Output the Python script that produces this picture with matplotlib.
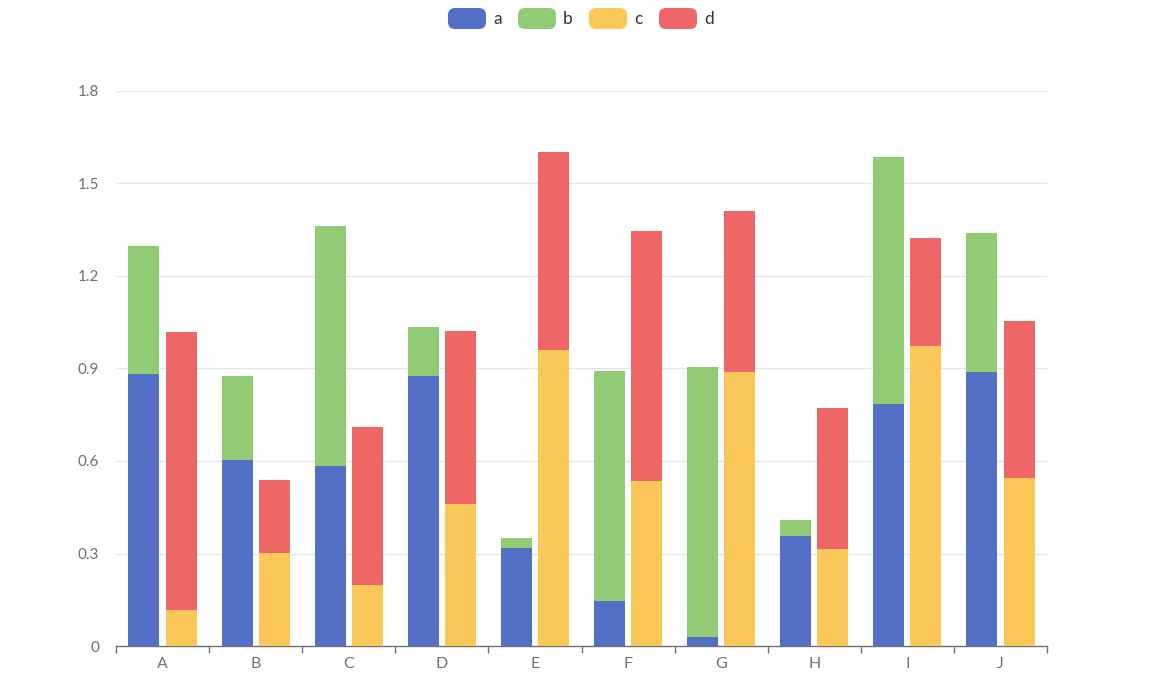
import matplotlib
matplotlib.use("Agg")
import matplotlib.pyplot as plt
from matplotlib.patches import FancyBboxPatch
import numpy as np

categories = ["A", "B", "C", "D", "E", "F", "G", "H", "I", "J"]
a = [0.882, 0.603, 0.584, 0.876, 0.318, 0.146, 0.029, 0.357, 0.785, 0.889]
b = [0.415, 0.272, 0.778, 0.159, 0.032, 0.746, 0.876, 0.052, 0.801, 0.450]
c = [0.117, 0.302, 0.198, 0.461, 0.960, 0.535, 0.889, 0.315, 0.973, 0.545]
d = [0.901, 0.237, 0.512, 0.561, 0.642, 0.811, 0.522, 0.457, 0.350, 0.509]
series_names = ["a", "b", "c", "d"]
colors = ["#5470c6", "#91cc75", "#fac858", "#ee6666"]
yticks = [0, 0.3, 0.6, 0.9, 1.2, 1.5, 1.8]
ytick_labels = ["0", "0.3", "0.6", "0.9", "1.2", "1.5", "1.8"]

plt.rcParams['font.family'] = ['Lato', 'DejaVu Sans']
W, H = 1164, 690
fig = plt.figure(figsize=(W / 100, H / 100), dpi=100)
ax = fig.add_axes([116 / W, (H - 646) / H, (1047 - 116) / W, (646 - 91) / H])

x = np.arange(len(categories))
bw = 0.333
off = 0.2
ax.bar(x - off, a, bw, color=colors[0], zorder=3)
ax.bar(x - off, b, bw, bottom=a, color=colors[1], zorder=3)
ax.bar(x + off, c, bw, color=colors[2], zorder=3)
ax.bar(x + off, d, bw, bottom=c, color=colors[3], zorder=3)

ax.set_xlim(-0.5, len(categories) - 0.5)
ax.set_ylim(0, 1.8)
ax.set_yticks(yticks)
ax.set_yticklabels(ytick_labels)
ax.yaxis.grid(True, color="#E0E6F1", linewidth=1, zorder=0)
ax.tick_params(axis="y", length=0, pad=12, labelcolor="#6E7079", labelsize=11)
for s in ["top", "right", "left"]:
    ax.spines[s].set_visible(False)
ax.spines["bottom"].set_color("#6E7079")
ax.spines["bottom"].set_linewidth(1)

ax.set_xticks(np.arange(len(categories) + 1) - 0.5, minor=False)
ax.set_xticklabels([])
ax.tick_params(axis="x", which="major", length=5, color="#6E7079", width=1)
ax.set_xticks(x, minor=True)
ax.set_xticklabels(categories, minor=True)
ax.tick_params(axis="x", which="minor", length=0, pad=8, labelcolor="#6E7079", labelsize=11.5)

# legend
leg_x = [448, 518, 589, 659]
for lx, name, col in zip(leg_x, series_names, colors):
    rect = FancyBboxPatch((lx / W, 1 - 29 / H), 38 / W, 21 / H,
                          boxstyle="round,pad=0,rounding_size=0.006",
                          transform=fig.transFigure, facecolor=col, edgecolor="none",
                          mutation_aspect=W / H)
    fig.patches.append(rect)
    fig.text((lx + 45) / W, 1 - 18.5 / H, name, color="#333333", fontsize=12.5,
             va="center", ha="left")

fig.savefig("out.png", dpi=100)
